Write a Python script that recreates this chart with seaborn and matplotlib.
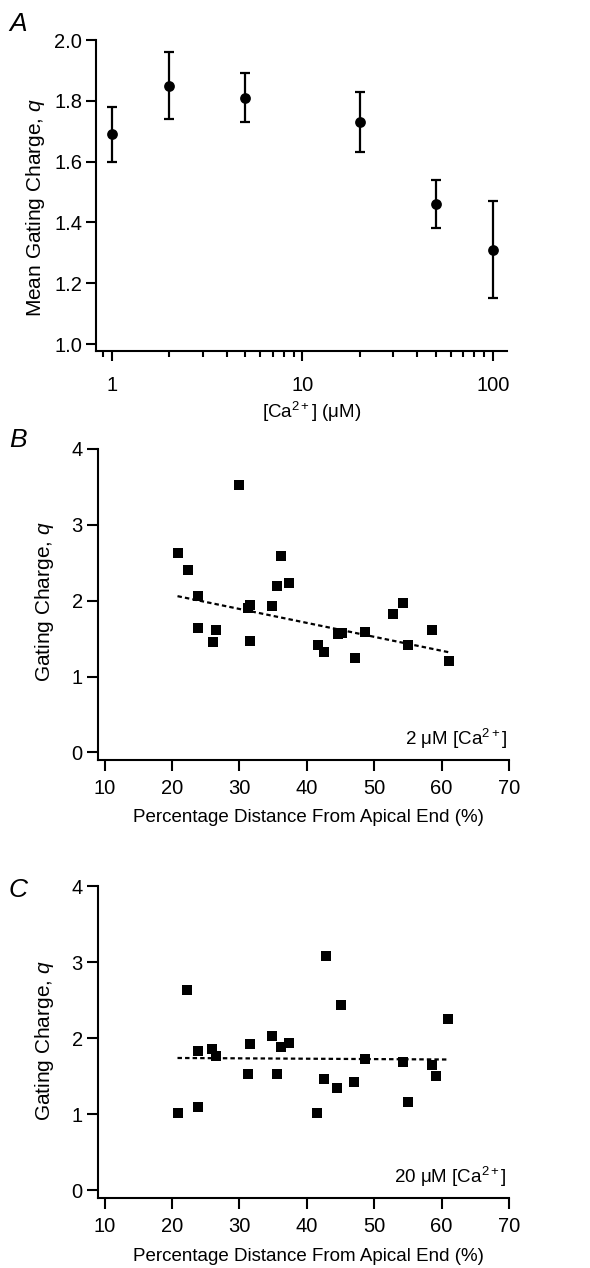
import numpy as np
import pandas as pd
import matplotlib
matplotlib.use('Agg')
import matplotlib.pyplot as plt
import matplotlib.ticker as mticker
import seaborn as sns

# Panel A: mean gating charge vs [Ca2+]
ca_conc = [1, 2, 5, 20, 50, 100]
mean_q = [1.69, 1.85, 1.81, 1.73, 1.46, 1.31]
mean_q_err = [0.09, 0.11, 0.08, 0.10, 0.08, 0.16]

# Panel B: 2 uM Ca2+
dist_b = [20.8, 22.3, 23.8, 23.8, 26.0, 26.5, 30.0, 31.5, 31.3, 31.6, 34.8, 35.5,
          36.1, 37.4, 41.6, 42.5, 44.6, 45.2, 47.1, 48.6, 52.8, 54.3, 55.0, 58.6, 61.1]
q_b = [2.63, 2.40, 2.06, 1.64, 1.46, 1.61, 3.53, 1.95, 1.90, 1.47, 1.93, 2.19,
       2.59, 2.24, 1.41, 1.33, 1.56, 1.57, 1.24, 1.59, 1.83, 1.97, 1.42, 1.62, 1.21]
fit_x_b = [20.8, 61.1]
fit_y_b = [2.06, 1.32]

# Panel C: 20 uM Ca2+
dist_c = [20.8, 22.2, 23.8, 23.8, 25.9, 26.5, 31.3, 31.5, 34.8, 35.5, 36.2, 37.3,
          41.5, 42.5, 42.8, 44.5, 45.0, 47.0, 48.6, 54.3, 55.0, 58.5, 59.2, 61.0]
q_c = [1.02, 2.63, 1.83, 1.09, 1.86, 1.77, 1.53, 1.92, 2.03, 1.53, 1.89, 1.94,
       1.02, 1.46, 3.08, 1.35, 2.43, 1.42, 1.73, 1.69, 1.16, 1.65, 1.50, 2.25]
fit_x_c = [20.8, 60.8]
fit_y_c = [1.74, 1.72]

sns.set_style('ticks')
plt.rcParams['font.family'] = ['Liberation Sans', 'DejaVu Sans']
plt.rcParams['mathtext.fontset'] = 'custom'
plt.rcParams['mathtext.rm'] = 'Liberation Sans'
plt.rcParams['mathtext.it'] = 'Liberation Sans:italic'
plt.rcParams['axes.linewidth'] = 1.5
plt.rcParams['xtick.major.width'] = 1.5
plt.rcParams['ytick.major.width'] = 1.5
plt.rcParams['xtick.minor.width'] = 1.5
for key in ('xtick.color', 'ytick.color', 'axes.edgecolor', 'axes.labelcolor',
            'text.color', 'xtick.labelcolor', 'ytick.labelcolor'):
    plt.rcParams[key] = 'black'

tick_fs = 14.5
ylab_fs = 15
xlab_fs = 13.5
note_fs = 13.5
fig = plt.figure(figsize=(5.9, 12.68), dpi=100)

# ---- Panel A
axA = fig.add_axes([96 / 590, 1 - 351 / 1268, 411 / 590, 311 / 1268])
dfA = pd.DataFrame({'ca': ca_conc, 'q': mean_q, 'err': mean_q_err})
axA.errorbar(dfA['ca'], dfA['q'], yerr=dfA['err'], fmt='none', ecolor='black',
             elinewidth=1.6, capsize=3.8, capthick=1.6)
sns.scatterplot(data=dfA, x='ca', y='q', ax=axA, color='black', s=60,
                marker='o', linewidth=0, zorder=3)
axA.set_xscale('log')
axA.set_xlim(0.824, 118.5)
axA.set_ylim(0.977, 2.0)
axA.set_yticks([1.0, 1.2, 1.4, 1.6, 1.8, 2.0])
axA.yaxis.set_major_formatter(mticker.FormatStrFormatter('%.1f'))
axA.xaxis.set_major_locator(mticker.FixedLocator([1, 10, 100]))
axA.xaxis.set_major_formatter(mticker.FixedFormatter(['1', '10', '100']))
axA.xaxis.set_minor_locator(mticker.LogLocator(base=10, subs=np.arange(2, 10)))
axA.xaxis.set_minor_formatter(mticker.NullFormatter())
axA.tick_params(axis='x', which='major', length=7, pad=11, labelsize=tick_fs)
axA.tick_params(axis='x', which='minor', length=4)
axA.tick_params(axis='y', length=7, pad=3, labelsize=tick_fs)
axA.set_xlabel('[Ca$^{2+}$] (μM)', fontsize=xlab_fs)
axA.set_ylabel('Mean Gating Charge, $q$', fontsize=ylab_fs)
axA.xaxis.set_label_coords(0.525, -0.196)
axA.xaxis.label.set_va('center')
axA.yaxis.set_label_coords(-0.148, 0.46)
axA.yaxis.label.set_va('center')

# ---- Panels B and C
def scatter_panel(ax, dist, q, fx, fy, note):
    df = pd.DataFrame({'dist': dist, 'q': q})
    sns.scatterplot(data=df, x='dist', y='q', ax=ax, color='black', marker='s',
                    s=62, linewidth=0, zorder=3)
    dfit = pd.DataFrame({'dist': fx, 'q': fy})
    sns.lineplot(data=dfit, x='dist', y='q', ax=ax, color='black',
                 linewidth=1.6, linestyle=(0, (2, 1.4)), zorder=2)
    ax.set_xlim(9, 70)
    ax.set_ylim(-0.1, 4)
    ax.set_xticks([10, 20, 30, 40, 50, 60, 70])
    ax.set_yticks([0, 1, 2, 3, 4])
    ax.tick_params(axis='both', length=8, labelsize=tick_fs)
    ax.tick_params(axis='x', pad=6)
    ax.tick_params(axis='y', pad=3)
    ax.set_xlabel('Percentage Distance From Apical End (%)', fontsize=xlab_fs)
    ax.set_ylabel('Gating Charge, $q$', fontsize=ylab_fs)
    ax.xaxis.label.set_va('center')
    ax.yaxis.label.set_va('center')
    ax.text(0.995, 0.03, note, transform=ax.transAxes, ha='right', va='bottom',
            fontsize=note_fs)

axB = fig.add_axes([98 / 590, 1 - 760 / 1268, 411 / 590, 311 / 1268])
scatter_panel(axB, dist_b, q_b, fit_x_b, fit_y_b, '2 μM [Ca$^{2+}$]')
axB.xaxis.set_label_coords(0.511, -0.186)
axB.yaxis.set_label_coords(-0.129, 0.509)

axC = fig.add_axes([98 / 590, 1 - 1198 / 1268, 411 / 590, 312 / 1268])
scatter_panel(axC, dist_c, q_c, fit_x_c, fit_y_c, '20 μM [Ca$^{2+}$]')
axC.xaxis.set_label_coords(0.511, -0.189)
axC.yaxis.set_label_coords(-0.129, 0.504)

for ax in (axA, axB, axC):
    sns.despine(ax=ax)

for lbl, yp in (('A', 24), ('B', 440), ('C', 890)):
    fig.text(9 / 590, 1 - yp / 1268, lbl, fontsize=19, fontstyle='italic',
             ha='left', va='center')

fig.savefig('out.png', dpi=100)
